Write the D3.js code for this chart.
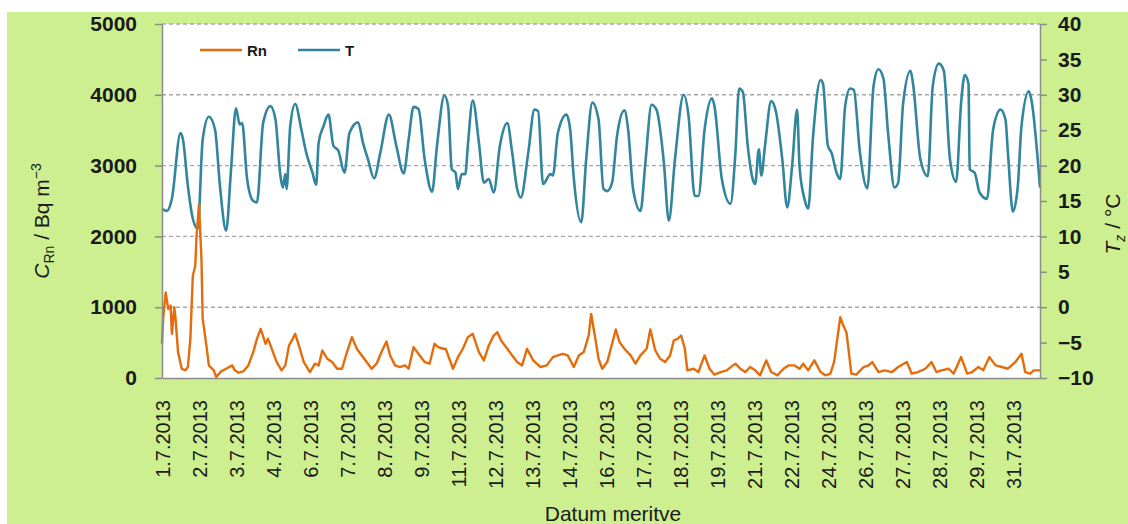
<!DOCTYPE html>
<html><head><meta charset="utf-8">
<script src="https://cdn.jsdelivr.net/npm/d3@7"></script>
<style>
body{margin:0;background:#fff;}
svg{display:block;font-family:"Liberation Sans",Arial,sans-serif;}
</style>
</head><body>
<svg id="c" width="1128" height="524"></svg>
<script>
// ---- data (sample index ~ hourly measurement number) ----
const sampleCount = 713;
const labelStep = 30;
const dateLabels = ["1.7.2013","2.7.2013","3.7.2013","4.7.2013","6.7.2013","7.7.2013","8.7.2013","9.7.2013","11.7.2013","12.7.2013","13.7.2013","14.7.2013","16.7.2013","17.7.2013","18.7.2013","19.7.2013","21.7.2013","22.7.2013","24.7.2013","26.7.2013","27.7.2013","28.7.2013","29.7.2013","31.7.2013"];
const leftTicks = [0,1000,2000,3000,4000,5000];
const rightTicks = [-10,-5,0,5,10,15,20,25,30,35,40];
const seriesNames = ["Rn","T"];

// temperature T [°C]: [sample index, value]
const tempSeries = [[0,13.9],[4,13.6],[8,15.3],[15,24.6],[17,23.7],[21,17.1],[25,12.5],[29,11.1],[33,23.7],[38,26.9],[43,25.1],[47,17.1],[52,10.8],[56,19.5],[60,28.1],[63,25.8],[65,26.0],[69,18.1],[74,15.0],[77,14.8],[82,26.0],[88,28.4],[92,26.5],[96,18.6],[98,16.9],[100,18.8],[101,16.7],[104,25.6],[108,28.7],[113,25.1],[117,21.8],[122,19.0],[125,17.3],[127,23.2],[131,25.6],[135,27.2],[139,22.8],[143,22.1],[148,19.0],[152,24.6],[159,26.1],[163,23.2],[167,20.9],[172,18.2],[177,21.8],[184,27.2],[190,22.8],[196,18.9],[200,23.7],[204,28.3],[208,28.0],[213,20.9],[219,16.3],[223,22.8],[229,29.9],[232,28.4],[235,19.5],[238,19.0],[240,16.7],[243,18.8],[246,18.8],[248,22.8],[252,29.2],[257,23.2],[261,17.6],[265,18.1],[269,16.2],[274,22.8],[280,26.0],[284,21.8],[288,16.7],[291,15.5],[297,21.8],[302,27.9],[305,27.7],[309,17.4],[315,18.8],[317,18.6],[321,24.6],[328,27.2],[331,25.1],[334,18.1],[340,12.0],[344,20.9],[349,28.9],[354,26.5],[358,16.7],[361,16.4],[365,17.6],[369,24.2],[375,27.8],[378,25.1],[382,16.7],[388,13.6],[392,20.4],[397,28.6],[401,27.9],[407,20.4],[411,12.2],[416,20.9],[423,30.0],[427,27.0],[432,15.7],[435,15.7],[440,25.1],[446,29.5],[448,28.4],[454,18.1],[461,14.6],[465,21.8],[468,30.9],[471,30.4],[475,22.8],[479,18.1],[481,17.4],[484,22.3],[486,18.6],[489,22.8],[494,29.1],[498,27.5],[503,20.9],[507,14.1],[511,20.0],[515,27.9],[517,19.9],[521,15.3],[524,13.9],[528,24.2],[534,32.1],[536,31.6],[540,22.8],[543,21.8],[547,19.0],[550,18.1],[554,28.4],[558,30.9],[561,30.7],[566,21.8],[572,16.8],[577,31.2],[581,33.6],[585,32.3],[589,24.2],[594,16.9],[597,17.6],[601,28.8],[607,33.4],[609,31.6],[615,20.9],[621,18.5],[625,31.2],[630,34.4],[634,33.4],[639,20.9],[644,17.7],[648,28.8],[651,32.8],[654,31.6],[655,19.5],[659,19.0],[663,16.2],[669,15.3],[674,25.1],[680,27.9],[684,26.5],[686,21.8],[690,13.5],[694,17.1],[697,25.6],[703,30.5],[705,29.3],[712,16.9]];

// radon concentration C_Rn [Bq m^-3]: [sample index, value]
const radonSeries = [[0,483],[1,858],[3,1210],[5,975],[7,1022],[8,624],[10,999],[11,835],[13,366],[16,131],[19,108],[21,155],[23,553],[25,1445],[27,1585],[28,2007],[30,2453],[32,1679],[33,835],[36,460],[38,178],[42,108],[44,14],[48,94],[52,131],[57,178],[59,108],[62,75],[66,94],[70,178],[74,366],[77,553],[80,694],[84,483],[86,553],[90,366],[93,225],[97,108],[100,178],[103,460],[106,553],[108,624],[111,460],[115,225],[120,84],[124,202],[127,178],[130,389],[134,272],[138,225],[142,131],[146,131],[150,366],[154,577],[158,413],[162,319],[166,225],[170,131],[174,202],[178,366],[182,516],[185,319],[189,178],[193,155],[197,178],[200,131],[204,436],[209,319],[213,225],[217,202],[221,483],[224,436],[228,413],[230,413],[232,319],[236,131],[240,295],[244,413],[248,577],[252,624],[257,366],[261,249],[265,460],[269,600],[272,647],[275,530],[280,413],[284,319],[288,225],[292,178],[296,413],[301,249],[307,155],[312,178],[317,295],[321,319],[325,342],[329,319],[334,155],[338,319],[342,366],[346,600],[348,905],[351,600],[354,272],[357,131],[361,225],[365,483],[368,685],[371,507],[375,413],[380,319],[384,202],[388,319],[393,413],[396,685],[400,389],[404,272],[408,225],[412,319],[415,530],[418,553],[421,600],[424,413],[426,108],[431,131],[435,84],[440,319],[444,131],[448,47],[453,84],[458,108],[463,178],[465,202],[469,131],[473,84],[477,155],[481,108],[485,38],[490,249],[494,84],[499,38],[504,131],[508,178],[513,178],[517,131],[520,202],[524,108],[529,249],[534,84],[538,38],[542,61],[545,225],[548,600],[550,858],[552,764],[555,647],[557,366],[559,61],[563,47],[569,155],[573,178],[576,225],[581,84],[586,108],[592,84],[597,155],[604,225],[608,61],[613,84],[619,131],[624,225],[628,84],[632,108],[638,131],[642,61],[648,295],[653,61],[657,84],[662,155],[666,108],[671,295],[676,178],[681,155],[686,131],[692,225],[697,342],[700,84],[704,61],[707,108],[712,108]];

// ---- drawing ----
const W = 1128, H = 524;
const P = {l:162, r:1040, t:24, b:378};
const cRn = "#E46C0A", cT = "#31859C", axisCol = "#8c8c8c", gridCol = "#a6a6a6", bg = "#cdef90";
const FONT = "Liberation Sans, Arial, sans-serif";

const svg = d3.select("#c");
svg.append("rect").attr("x",7).attr("y",12).attr("width",W-7).attr("height",H-12).attr("fill",bg);
svg.append("rect").attr("x",P.l).attr("y",P.t).attr("width",P.r-P.l).attr("height",P.b-P.t).attr("fill","#fff");

const x = d3.scaleLinear().domain([0, sampleCount-1]).range([P.l, P.r]);
const yL = d3.scaleLinear().domain([0,5000]).range([P.b, P.t]);
const yR = d3.scaleLinear().domain([-10,40]).range([P.b, P.t]);

// gridlines
svg.append("g").selectAll("line").data(leftTicks.filter(d=>d>0)).join("line")
  .attr("x1",P.l).attr("x2",P.r).attr("y1",d=>yL(d)).attr("y2",d=>yL(d))
  .attr("stroke",gridCol).attr("stroke-width",1.4).attr("stroke-dasharray","4,3");

// lines
const lineRn = d3.line().x(d=>x(d[0])).y(d=>yL(d[1]));
const lineT = d3.line().x(d=>x(d[0])).y(d=>yR(d[1])).curve(d3.curveMonotoneX);
svg.append("path").datum(tempSeries).attr("d",lineT).attr("fill","none")
  .attr("stroke",cT).attr("stroke-width",2.6).attr("stroke-linejoin","round");
svg.append("path").datum(radonSeries).attr("d",lineRn).attr("fill","none")
  .attr("stroke",cRn).attr("stroke-width",2.4).attr("stroke-linejoin","round");

// axes
function styleAxis(g){
  g.select(".domain").attr("stroke",axisCol).attr("stroke-width",1.5);
  g.selectAll(".tick line").attr("stroke",axisCol).attr("stroke-width",1.5);
  g.selectAll("text").attr("fill","#1a1a1a").attr("font-family",FONT);
}
const gL = svg.append("g").attr("transform",`translate(${P.l},0)`)
  .call(d3.axisLeft(yL).tickValues(leftTicks).tickFormat(d3.format("d"))
    .tickSize(7).tickSizeOuter(0).tickPadding(18));
styleAxis(gL);
gL.selectAll("text").attr("font-size",21).attr("font-weight","bold");

const gR = svg.append("g").attr("transform",`translate(${P.r},0)`)
  .call(d3.axisRight(yR).tickValues(rightTicks).tickFormat(d3.format("d"))
    .tickSize(7).tickSizeOuter(0).tickPadding(11));
styleAxis(gR);
gR.selectAll("text").attr("font-size",21).attr("font-weight","bold");

const gB = svg.append("g").attr("transform",`translate(0,${P.b})`)
  .call(d3.axisBottom(x).tickValues(dateLabels.map((d,i)=>i*labelStep))
    .tickFormat((d,i)=>dateLabels[i]).tickSize(0).tickSizeOuter(0));
styleAxis(gB);
gB.selectAll("text").attr("font-size",20)
  .attr("transform","rotate(-90)").attr("text-anchor","end")
  .attr("x",-22).attr("y",0).attr("dy","0.36em");

// axis titles
svg.append("text").attr("x",613).attr("y",521).attr("text-anchor","middle")
  .attr("font-size",21).attr("fill","#1a1a1a").text("Datum meritve");

const tl = svg.append("text").attr("transform","translate(49,221) rotate(-90)")
  .attr("text-anchor","middle").attr("font-size",21).attr("fill","#1a1a1a");
tl.append("tspan").attr("font-style","italic").text("C");
tl.append("tspan").attr("font-size",14).attr("dy",5).text("Rn");
tl.append("tspan").attr("dy",-5).text(" / Bq m");
tl.append("tspan").attr("font-size",14).attr("dy",-8).text("−3");

const tr = svg.append("text").attr("transform","translate(1120,224) rotate(-90)")
  .attr("text-anchor","middle").attr("font-size",21).attr("fill","#1a1a1a");
tr.append("tspan").attr("font-style","italic").text("T");
tr.append("tspan").attr("font-size",14).attr("dy",5).attr("font-style","italic").text("z");
tr.append("tspan").attr("dy",-5).text(" / °C");

// legend
const legend = [{name:seriesNames[0], col:cRn, x0:200},{name:seriesNames[1], col:cT, x0:298}];
const lg = svg.append("g").selectAll("g").data(legend).join("g");
lg.append("line").attr("x1",d=>d.x0).attr("x2",d=>d.x0+42).attr("y1",50).attr("y2",50)
  .attr("stroke",d=>d.col).attr("stroke-width",2.6);
lg.append("text").attr("x",d=>d.x0+47).attr("y",55.5).attr("font-size",15).attr("font-weight","bold")
  .attr("fill","#1a1a1a").attr("font-family",FONT).text(d=>d.name);
</script>
</body></html>
